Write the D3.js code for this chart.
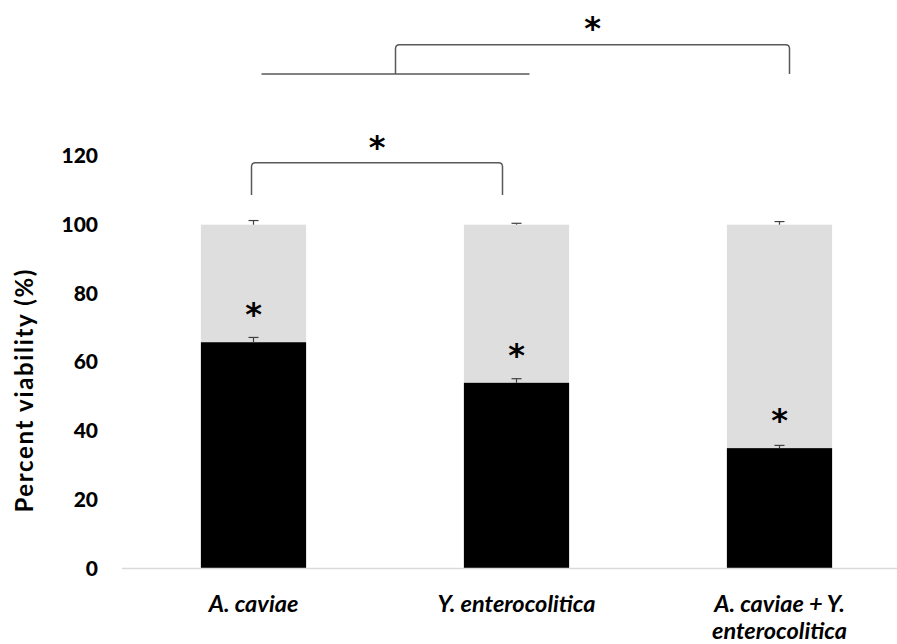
<!DOCTYPE html>
<html>
<head>
<meta charset="utf-8">
<script src="https://cdn.jsdelivr.net/npm/d3@7"></script>
<style>
  html, body { margin: 0; padding: 0; background: #fff; }
  svg { display: block; }
</style>
</head>
<body>
<svg id="chart" width="897" height="644"></svg>
<script>
// ---- data ----
const categories = ["A. caviae", "Y. enterocolitica", "A. caviae + Y. enterocolitica"];
const labelLines = [["A. caviae"], ["Y. enterocolitica"], ["A. caviae + Y.", "enterocolitica"]];
const liveValues = [65.8, 54.0, 35.0];
const liveErrors = [1.4, 1.2, 0.8];
const totalValues = [100, 100, 100];
const totalErrors = [1.2, 0.4, 0.9];
const yTicks = [0, 20, 40, 60, 80, 100, 120];

const svg = d3.select("#chart");
const x = d3.scaleBand().domain(categories).range([122, 911]).paddingInner(0.6).paddingOuter(0.3);
const y = d3.scaleLinear().domain([0, 120]).range([568.5, 155.9]);
const bw = x.bandwidth();
const cx = c => x(c) + bw / 2;

const FONT = "Lato, 'Open Sans', sans-serif";

// gray (total) bars
svg.append("g").selectAll("rect").data(categories).join("rect")
  .attr("x", d => x(d)).attr("width", bw)
  .attr("y", (d, i) => y(totalValues[i]))
  .attr("height", (d, i) => y(0) - y(totalValues[i]))
  .attr("fill", "#dedede");

// black (live) bars
svg.append("g").selectAll("rect").data(categories).join("rect")
  .attr("x", d => x(d)).attr("width", bw)
  .attr("y", (d, i) => y(liveValues[i]))
  .attr("height", (d, i) => y(0) - y(liveValues[i]))
  .attr("fill", "#000");

// error bars
function errBars(vals, errs) {
  const g = svg.append("g").attr("stroke", "#404040").attr("stroke-width", 1.2);
  categories.forEach((c, i) => {
    const xc = cx(c);
    g.append("line").attr("x1", xc).attr("x2", xc).attr("y1", y(vals[i])).attr("y2", y(vals[i] + errs[i]));
    g.append("line").attr("x1", xc - 5).attr("x2", xc + 5).attr("y1", y(vals[i] + errs[i])).attr("y2", y(vals[i] + errs[i]));
  });
}
errBars(liveValues, liveErrors);
errBars(totalValues, totalErrors);

// x axis baseline
svg.append("line").attr("x1", 122).attr("x2", 911).attr("y1", y(0)).attr("y2", y(0))
  .attr("stroke", "#d9d9d9").attr("stroke-width", 1.5);

// y axis (labels only)
const yAxis = d3.axisLeft(y).tickValues(yTicks).tickSize(0).tickPadding(0);
const ya = svg.append("g").attr("transform", "translate(98,0)").call(yAxis);
ya.select(".domain").remove();
ya.selectAll("text").attr("font-family", FONT).attr("font-weight", "900")
  .attr("font-size", 21).attr("fill", "#000");

// y title
svg.append("text")
  .attr("transform", `translate(33,${y(51.6)}) rotate(-90)`)
  .attr("text-anchor", "middle")
  .attr("font-family", FONT).attr("font-weight", "bold").attr("font-size", 24)
  .attr("textLength", 243).attr("lengthAdjust", "spacing")
  .attr("fill", "#000")
  .text("Percent viability (%)");

// x labels
categories.forEach((c, i) => {
  const t = svg.append("text").attr("text-anchor", "middle")
    .attr("font-family", FONT).attr("font-weight", "bold").attr("font-style", "italic")
    .attr("font-size", 23.5).attr("fill", "#000");
  labelLines[i].forEach((ln, j) => {
    t.append("tspan").attr("x", cx(c)).attr("y", 612 + j * 27).text(ln);
  });
});

// asterisks in bars
function star(xp, yc) {
  svg.append("text").attr("x", xp).attr("y", yc + 17)
    .attr("text-anchor", "middle").attr("font-family", "DejaVu Sans")
    .attr("font-weight", "bold").attr("font-size", 32).attr("fill", "#000").text("*");
}
categories.forEach((c, i) => star(cx(c), y(liveValues[i]) - 34));

// brackets
const bracketG = svg.append("g").attr("fill", "none").attr("stroke", "#595959").attr("stroke-width", 1.5);
function bracket(x1, x2, yTop, yBot) {
  const r = 4;
  bracketG.append("path").attr("d",
    `M${x1},${yBot} L${x1},${yTop + r} Q${x1},${yTop} ${x1 + r},${yTop} L${x2 - r},${yTop} Q${x2},${yTop} ${x2},${yTop + r} L${x2},${yBot}`);
}
// lower: A. caviae vs Y. enterocolitica
const lowL = cx(categories[0]) - 2, lowR = cx(categories[1]) - 14;
bracket(lowL, lowR, y(118), y(108.6));
star((lowL + lowR) / 2, y(124.2));
// upper: (A + Y group) vs combined
const grpL = cx(categories[0]) + 8, grpR = cx(categories[1]) + 13;
const grpMid = (grpL + grpR) / 2;
bracketG.append("line").attr("x1", grpL).attr("x2", grpR).attr("y1", y(143.8)).attr("y2", y(143.8));
const upR = cx(categories[2]) + 10;
bracketG.append("path").attr("d",
  `M${grpMid},${y(143.8)} L${grpMid},${y(152.3) + 4} Q${grpMid},${y(152.3)} ${grpMid + 4},${y(152.3)} L${upR - 4},${y(152.3)} Q${upR},${y(152.3)} ${upR},${y(152.3) + 4} L${upR},${y(143.8)}`);
star((grpMid + upR) / 2, y(158.9));
</script>
</body>
</html>
